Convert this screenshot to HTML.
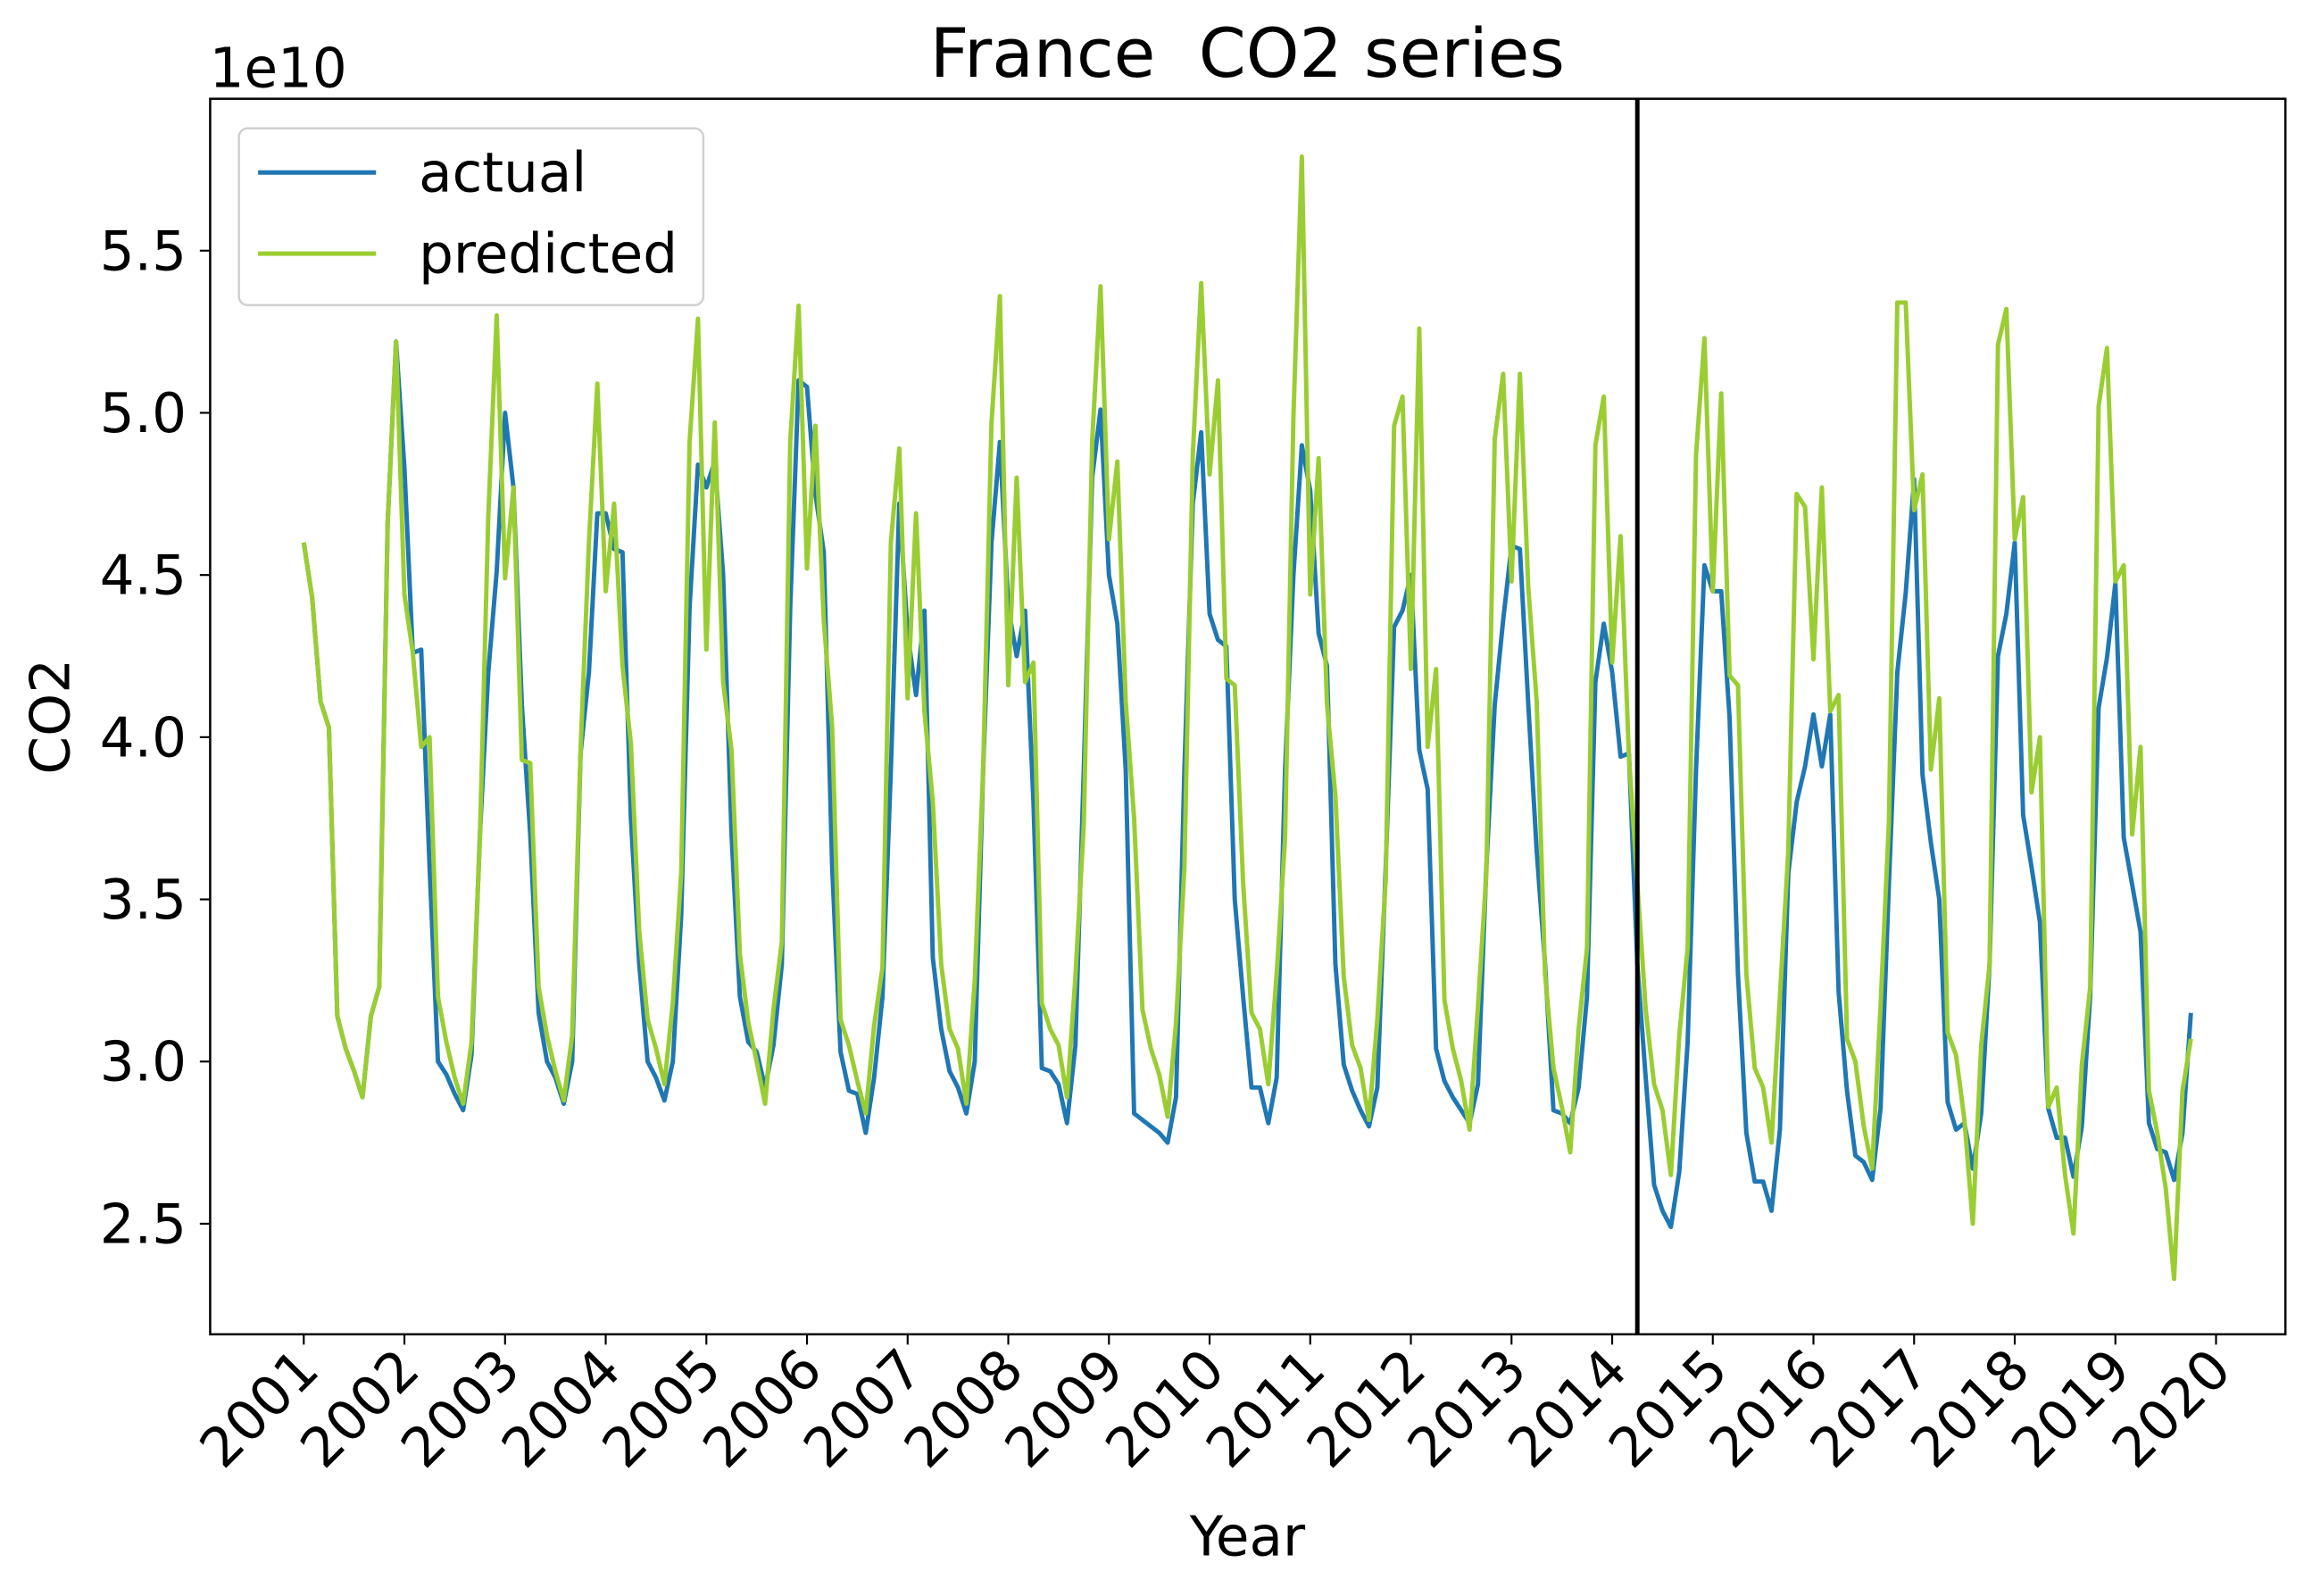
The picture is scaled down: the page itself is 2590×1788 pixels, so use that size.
<!DOCTYPE html>
<html><head><meta charset="utf-8"><style>
html,body{margin:0;padding:0;background:#fff;}
svg{display:block;font-family:"DejaVu Sans","Liberation Sans",sans-serif;}
</style></head><body>
<svg id="chart" width="2590" height="1788" viewBox="0 0 1568 1082.5" xmlns="http://www.w3.org/2000/svg">
<rect x="0" y="0" width="1568" height="1082.5" fill="#fff"/>
<text x="846" y="52" font-size="46" text-anchor="middle" xml:space="preserve">France &#160;CO2 series</text>
<text x="142" y="59" font-size="37">1e10</text>
<text x="0" y="0" font-size="37" text-anchor="middle" transform="translate(47,486) rotate(-90)">CO2</text>
<text x="846" y="1055" font-size="37" text-anchor="middle">Year</text>
<g id="plot"></g>
<g id="legend">
<rect x="162" y="87" width="315" height="120" rx="6" fill="#fff" fill-opacity="0.8" stroke="#d0d0d0" stroke-width="1.5"/>
<line x1="175" y1="117" x2="255" y2="117" stroke="#1f77b4" stroke-width="3"/>
<text x="284" y="130" font-size="37">actual</text>
<line x1="175" y1="172" x2="255" y2="172" stroke="#9acd32" stroke-width="3"/>
<text x="284" y="185" font-size="37">predicted</text>
</g>
</svg>
<script>
const startYear = 2001;
const splitDate = 2014.25;
const yTicks = [2.5, 3.0, 3.5, 4.0, 4.5, 5.0, 5.5];
const xTickYears = [2001,2002,2003,2004,2005,2006,2007,2008,2009,2010,2011,2012,2013,2014,2015,2016,2017,2018,2019,2020];
const actual = [4.60,4.43,4.11,4.03,3.14,3.04,2.97,2.89,3.14,3.23,4.66,5.22,
4.83,4.26,4.27,3.60,3.00,2.96,2.90,2.85,3.02,3.70,4.20,4.51,
5.00,4.77,4.10,3.70,3.15,3.00,2.95,2.87,3.00,3.95,4.20,4.69,
4.69,4.58,4.57,3.75,3.30,3.00,2.95,2.88,3.00,3.45,4.40,4.84,
4.77,4.85,4.50,3.70,3.20,3.06,3.03,2.92,3.05,3.30,4.40,5.10,
5.08,4.75,4.57,3.60,3.03,2.91,2.90,2.78,2.95,3.20,3.90,4.72,
4.32,4.13,4.39,3.32,3.10,2.97,2.92,2.84,3.00,3.90,4.60,4.91,
4.40,4.25,4.39,3.80,2.98,2.97,2.93,2.81,3.05,3.90,4.80,5.01,
4.50,4.35,3.90,2.84,2.82,2.80,2.78,2.75,2.89,3.90,4.72,4.94,
4.38,4.30,4.28,3.50,3.20,2.92,2.92,2.81,2.95,3.90,4.50,4.90,
4.76,4.32,4.22,3.30,2.99,2.91,2.85,2.80,2.92,3.60,4.34,4.39,
4.50,3.96,3.84,3.04,2.94,2.89,2.85,2.81,2.93,3.60,4.10,4.36,
4.59,4.58,4.10,3.65,3.30,2.85,2.84,2.81,2.92,3.20,4.17,4.35,
4.20,3.94,3.95,3.30,2.95,2.62,2.54,2.49,2.66,3.06,3.90,4.53,
4.45,4.45,4.06,3.27,2.78,2.63,2.63,2.54,2.79,3.58,3.80,3.91,
4.07,3.91,4.07,3.215,2.91,2.71,2.69,2.635,2.855,3.55,4.20,4.444,
4.795,3.885,3.675,3.50,2.875,2.79,2.81,2.67,2.84,3.30,4.25,4.38,
4.60,3.76,3.60,3.43,2.855,2.765,2.765,2.645,2.80,3.205,4.09,4.245,
4.475,3.69,3.545,3.40,2.81,2.73,2.72,2.635,2.78,3.15];
const predicted = [4.60,4.43,4.11,4.03,3.14,3.04,2.97,2.89,3.14,3.23,4.66,5.22,
4.44,4.26,3.97,4.00,3.20,3.06,2.95,2.87,3.06,3.69,4.68,5.30,
4.49,4.77,3.93,3.92,3.23,3.08,2.97,2.88,3.08,3.96,4.60,5.09,
4.45,4.72,4.22,3.98,3.40,3.13,3.04,2.93,3.18,3.58,4.91,5.29,
4.27,4.97,4.17,3.96,3.33,3.12,3.00,2.87,3.16,3.37,4.91,5.33,
4.52,4.96,4.36,4.03,3.13,3.05,2.94,2.84,3.11,3.29,4.60,4.89,
4.12,4.69,4.08,3.80,3.30,3.10,3.04,2.87,3.25,3.90,4.97,5.36,
4.16,4.80,4.17,4.23,3.18,3.10,3.05,2.89,3.26,3.73,4.91,5.39,
4.61,4.85,4.11,3.75,3.16,3.04,2.96,2.83,3.12,3.60,4.87,5.40,
4.81,5.10,4.18,4.16,3.55,3.15,3.10,2.93,3.27,3.69,4.99,5.79,
4.44,4.86,4.10,3.82,3.26,3.05,2.98,2.82,3.13,3.56,4.96,5.05,
4.21,5.26,3.97,4.21,3.19,3.04,2.94,2.79,3.17,3.58,4.92,5.12,
4.48,5.12,4.46,4.11,3.27,2.98,2.86,2.72,3.10,3.35,4.90,5.05,
4.23,4.62,3.94,3.55,3.16,2.93,2.85,2.65,3.08,3.35,4.87,5.23,
4.45,5.06,4.19,4.16,3.27,2.98,2.92,2.75,3.20,3.65,4.75,4.71,
4.24,4.77,4.08,4.13,3.07,3.00,2.80,2.67,3.17,3.74,5.34,5.34,
4.70,4.81,3.90,4.12,3.09,3.02,2.82,2.50,3.05,3.30,5.21,5.32,
4.61,4.74,3.83,4.00,2.86,2.92,2.65,2.47,2.99,3.23,5.02,5.20,
4.48,4.53,3.70,3.97,2.91,2.78,2.61,2.33,2.91,3.07];

const L=142.5, R=1550, T=67, B=905;
function xOfYear(y){ return 206 + (y-2001)*68.26; }
function xOfIndex(i){ return xOfYear(startYear + i/12); }
function yOf(v){ return 720 - (v-3.0)*220; }
const NS='http://www.w3.org/2000/svg';
const plot=document.getElementById('plot');
function mk(tag,attrs){ const e=document.createElementNS(NS,tag); for(const k in attrs) e.setAttribute(k,attrs[k]); return e; }

yTicks.forEach(function(t){
  const y=yOf(t);
  const tk=mk('line',{x1:L-7,y1:y,x2:L,y2:y,stroke:'#000','stroke-width':1.3});
  
  
  plot.appendChild(tk);
  const tx=mk('text',{x:L-16,y:y+13,'font-size':37,'text-anchor':'end'});
  tx.textContent=t.toFixed(1);
  
  
  plot.appendChild(tx);
});
xTickYears.forEach(function(yr){
  const x=xOfYear(yr);
  const tk=mk('line',{x1:x,y1:B,x2:x,y2:B+7,stroke:'#000','stroke-width':1.3});
  
  
  plot.appendChild(tk);
  const tx=mk('text',{x:0,y:0,'font-size':37,'text-anchor':'end',transform:'translate('+(x+12)+','+(B+26)+') rotate(-45)'});
  tx.textContent=String(yr);
  
  
  plot.appendChild(tx);
});
function series(arr,color,name){
  const pts=arr.map(function(v,i){ return xOfIndex(i).toFixed(2)+','+yOf(v).toFixed(2); }).join(' ');
  const pl=mk('polyline',{points:pts,fill:'none',stroke:color,'stroke-width':3,'stroke-linejoin':'round'});
  
  
  plot.appendChild(pl);
}
series(actual,'#1f77b4','actual-line');
series(predicted,'#9acd32','predicted-line');
const sx=xOfYear(splitDate);
const vl=mk('line',{x1:sx,y1:T,x2:sx,y2:B,stroke:'#000','stroke-width':3});


plot.appendChild(vl);
const frame=mk('rect',{x:L,y:T,width:R-L,height:B-T,fill:'none',stroke:'#000','stroke-width':1.5});


plot.appendChild(frame);
</script>
</body></html>
